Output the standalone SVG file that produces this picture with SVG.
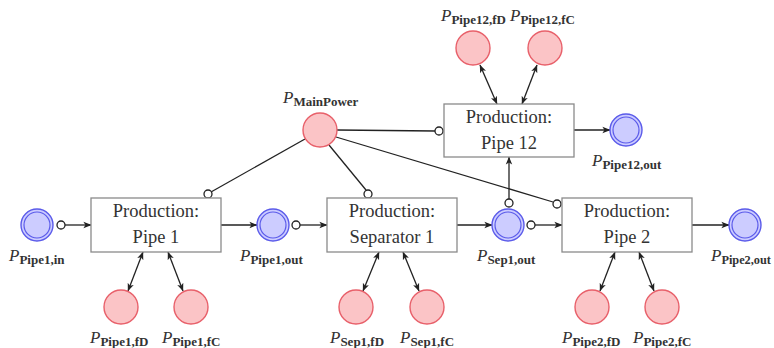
<svg xmlns="http://www.w3.org/2000/svg" width="774" height="348" viewBox="0 0 774 348">
  <style>
    text { font-family: 'Liberation Serif', 'Times New Roman', serif; }
    .box rect { fill: #fff; stroke: #8a8a8a; stroke-width: 1.3; }
    .box text { font-size: 18.5px; fill: #333; text-anchor: middle; }
    .blue circle.o { fill: #ccccff; stroke: #5b5bea; stroke-width: 1.4; }
    .blue circle.i { fill: none; stroke: #5b5bea; stroke-width: 1.2; }
    .red circle { fill: #fbc4c6; stroke: #e8606a; stroke-width: 1.4; }
    .lbl { font-size: 17px; fill: #333; }
    .lbl .p { font-style: italic; }
    .lbl .s { font-size: 13px; font-weight: bold; }
    .edge { stroke: #222; stroke-width: 1.3; fill: none; }
    .arr { marker-end: url(#tip); }
    .dbl { marker-start: url(#tip); marker-end: url(#tip); }
    .inh { fill: #fff; stroke: #222; stroke-width: 1.3; }
  </style>
  <defs>
    <marker id="tip" viewBox="0 0 10 10" refX="9.5" refY="5" markerWidth="8" markerHeight="8" orient="auto-start-reverse" markerUnits="userSpaceOnUse">
      <path d="M0,1 L10,5 L0,9 L2.5,5 Z" fill="#222"/>
    </marker>
  </defs>

  <!-- connectors -->
  <g id="connectors">
    <!-- main flow -->
    <line class="edge arr" x1="65" y1="225" x2="91" y2="225"/>
    <line class="edge arr" x1="221" y1="225" x2="257" y2="225"/>
    <line class="edge arr" x1="300" y1="225" x2="327" y2="225"/>
    <line class="edge arr" x1="457" y1="225" x2="492" y2="225"/>
    <line class="edge arr" x1="535" y1="225" x2="562" y2="225"/>
    <line class="edge arr" x1="692" y1="225" x2="729" y2="225"/>
    <line class="edge arr" x1="509" y1="199" x2="509" y2="157"/>
    <line class="edge arr" x1="574" y1="130" x2="610" y2="130"/>
    <!-- power supply lines -->
    <line class="edge" x1="337" y1="130" x2="435" y2="131"/>
    <line class="edge" x1="329" y1="145" x2="366" y2="190"/>
    <line class="edge" x1="336" y1="137" x2="553" y2="202"/>
    <line class="edge" x1="305" y1="139" x2="211" y2="192"/>
    <!-- flexibility exchanges -->
    <line class="edge dbl" x1="143" y1="252" x2="128" y2="291"/>
    <line class="edge dbl" x1="168" y1="252" x2="183" y2="291"/>
    <line class="edge dbl" x1="379" y1="252" x2="363" y2="291"/>
    <line class="edge dbl" x1="403" y1="252" x2="419" y2="291"/>
    <line class="edge dbl" x1="615" y1="252" x2="600" y2="291"/>
    <line class="edge dbl" x1="639" y1="252" x2="654" y2="291"/>
    <line class="edge dbl" x1="480" y1="65" x2="497" y2="104"/>
    <line class="edge dbl" x1="537" y1="65" x2="522" y2="104"/>
    <!-- read arcs -->
    <circle class="inh" cx="61" cy="225" r="4"/>
    <circle class="inh" cx="296" cy="225" r="4"/>
    <circle class="inh" cx="531" cy="225" r="4"/>
    <circle class="inh" cx="509" cy="203" r="4"/>
    <circle class="inh" cx="439" cy="131" r="4"/>
    <circle class="inh" cx="368" cy="194" r="4"/>
    <circle class="inh" cx="557" cy="204" r="4"/>
    <circle class="inh" cx="208" cy="194" r="4"/>
  </g>

  <!-- transitions -->
  <g id="t-pipe1" class="box">
    <rect x="91" y="198" width="130" height="54"/>
    <text x="156" y="217">Production:</text>
    <text x="156" y="243">Pipe 1</text>
  </g>
  <g id="t-sep1" class="box">
    <rect x="327" y="198" width="130" height="54"/>
    <text x="392" y="217">Production:</text>
    <text x="392" y="243">Separator 1</text>
  </g>
  <g id="t-pipe2" class="box">
    <rect x="562" y="198" width="130" height="54"/>
    <text x="627" y="217">Production:</text>
    <text x="627" y="243">Pipe 2</text>
  </g>
  <g id="t-pipe12" class="box">
    <rect x="444" y="104" width="130" height="53"/>
    <text x="509" y="123">Production:</text>
    <text x="509" y="149">Pipe 12</text>
  </g>

  <!-- flow places -->
  <g id="p-pipe1-in" class="blue">
    <circle class="o" cx="37" cy="225" r="16"/><circle class="i" cx="37" cy="225" r="13"/>
    <text class="lbl" x="9" y="261"><tspan class="p">P</tspan><tspan class="s" dy="3">Pipe1,in</tspan></text>
  </g>
  <g id="p-pipe1-out" class="blue">
    <circle class="o" cx="273" cy="225" r="16"/><circle class="i" cx="273" cy="225" r="13"/>
    <text class="lbl" x="240" y="261"><tspan class="p">P</tspan><tspan class="s" dy="3">Pipe1,out</tspan></text>
  </g>
  <g id="p-sep1-out" class="blue">
    <circle class="o" cx="508" cy="225" r="16"/><circle class="i" cx="508" cy="225" r="13"/>
    <text class="lbl" x="477" y="261"><tspan class="p">P</tspan><tspan class="s" dy="3">Sep1,out</tspan></text>
  </g>
  <g id="p-pipe2-out" class="blue">
    <circle class="o" cx="745" cy="225" r="16"/><circle class="i" cx="745" cy="225" r="13"/>
    <text class="lbl" x="711" y="261"><tspan class="p">P</tspan><tspan class="s" dy="3" style="font-size:12.3px">Pipe2,out</tspan></text>
  </g>
  <g id="p-pipe12-out" class="blue">
    <circle class="o" cx="626" cy="130" r="16"/><circle class="i" cx="626" cy="130" r="13"/>
    <text class="lbl" x="592" y="166"><tspan class="p">P</tspan><tspan class="s" dy="3">Pipe12,out</tspan></text>
  </g>

  <!-- power and flexibility places -->
  <g id="p-mainpower" class="red">
    <circle cx="320" cy="130" r="17"/>
    <text class="lbl" x="283" y="103"><tspan class="p">P</tspan><tspan class="s" dy="3">MainPower</tspan></text>
  </g>
  <g id="p-pipe12-fd" class="red">
    <circle cx="473" cy="48" r="17"/>
    <text class="lbl" x="441" y="21"><tspan class="p">P</tspan><tspan class="s" dy="3">Pipe12,fD</tspan></text>
  </g>
  <g id="p-pipe12-fc" class="red">
    <circle cx="545" cy="48" r="17"/>
    <text class="lbl" x="510" y="21"><tspan class="p">P</tspan><tspan class="s" dy="3">Pipe12,fC</tspan></text>
  </g>
  <g id="p-pipe1-fd" class="red">
    <circle cx="121" cy="307" r="17"/>
    <text class="lbl" x="90" y="343"><tspan class="p">P</tspan><tspan class="s" dy="3">Pipe1,fD</tspan></text>
  </g>
  <g id="p-pipe1-fc" class="red">
    <circle cx="191" cy="307" r="17"/>
    <text class="lbl" x="162" y="343"><tspan class="p">P</tspan><tspan class="s" dy="3">Pipe1,fC</tspan></text>
  </g>
  <g id="p-sep1-fd" class="red">
    <circle cx="356" cy="307" r="17"/>
    <text class="lbl" x="330" y="343"><tspan class="p">P</tspan><tspan class="s" dy="3">Sep1,fD</tspan></text>
  </g>
  <g id="p-sep1-fc" class="red">
    <circle cx="427" cy="307" r="17"/>
    <text class="lbl" x="400" y="343"><tspan class="p">P</tspan><tspan class="s" dy="3">Sep1,fC</tspan></text>
  </g>
  <g id="p-pipe2-fd" class="red">
    <circle cx="592" cy="307" r="17"/>
    <text class="lbl" x="562" y="343"><tspan class="p">P</tspan><tspan class="s" dy="3">Pipe2,fD</tspan></text>
  </g>
  <g id="p-pipe2-fc" class="red">
    <circle cx="662" cy="307" r="17"/>
    <text class="lbl" x="633" y="343"><tspan class="p">P</tspan><tspan class="s" dy="3">Pipe2,fC</tspan></text>
  </g>
</svg>
